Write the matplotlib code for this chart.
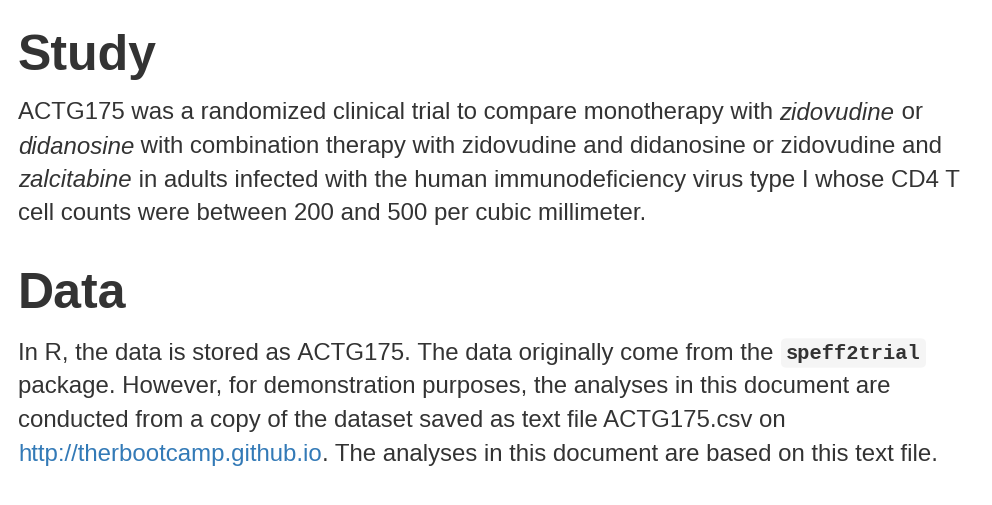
import matplotlib
matplotlib.use("Agg")
import matplotlib.pyplot as plt

W, H = 992, 506
BODY = 17.3
HEAD = 36
INK = "#333333"

headings = [("Study", 57), ("Data", 295)]

# each line: (y pixel center, [(text, style)])
body_lines = [
    (113, [("ACTG175 was a randomized clinical trial to compare monotherapy with ", "n"),
           ("zidovudine", "i"), (" or", "n")]),
    (147, [("didanosine", "i"),
           (" with combination therapy with zidovudine and didanosine or zidovudine and", "n")]),
    (181, [("zalcitabine", "i"),
           (" in adults infected with the human immunodeficiency virus type I whose CD4 T", "n")]),
    (214, [("cell counts were between 200 and 500 per cubic millimeter.", "n")]),
    (354, [("In R, the data is stored as ACTG175. The data originally come from the ", "n"),
           ("speff2trial", "c")]),
    (387, [("package. However, for demonstration purposes, the analyses in this document are", "n")]),
    (421, [("conducted from a copy of the dataset saved as text file ACTG175.csv on", "n")]),
    (455, [("http://therbootcamp.github.io", "l"),
           (". The analyses in this document are based on this text file.", "n")]),
]

fig = plt.figure(figsize=(W / 100, H / 100), dpi=100)
fig.patch.set_facecolor("white")
renderer = fig.canvas.get_renderer()

for txt, py in headings:
    fig.text(18 / W, 1 - py / H, txt, fontsize=HEAD, family="Liberation Sans",
             color=INK, va="center", ha="left", fontweight="bold")

for py, segs in body_lines:
    x = 18
    for txt, style in segs:
        kw = dict(fontsize=BODY, family="Liberation Sans", color=INK, va="center", ha="left")
        if style == "i":
            kw["style"] = "italic"
        elif style == "l":
            kw["color"] = "#337ab7"
        elif style == "c":
            kw.update(family="Liberation Mono", fontsize=BODY * 0.85, color="#333333",
                      fontweight="bold",
                      bbox=dict(boxstyle="round,pad=0.25", fc="#f5f5f5", ec="none"))
            x += 6
        t = fig.text(x / W, 1 - py / H, txt, **kw)
        t.set_text(txt.replace(" ", "\u00a0") if txt.endswith(" ") else txt)
        bb = t.get_window_extent(renderer)
        x += bb.width

fig.savefig("out.png", dpi=100, facecolor="white")
